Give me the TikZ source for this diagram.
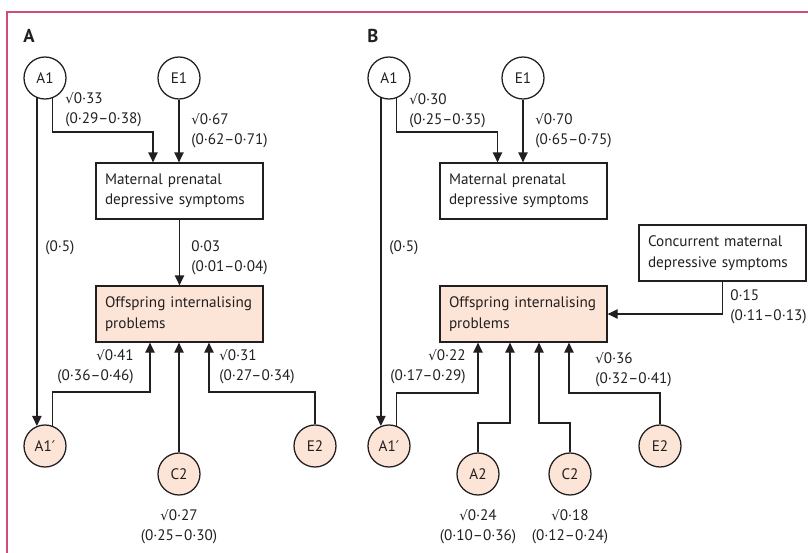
\documentclass[tikz,border=0pt]{standalone}
\usepackage{fontspec}
\setmainfont{PT Sans}
\newfontfamily\symfont{DejaVu Sans}
\usetikzlibrary{arrows.meta,calc}
\definecolor{framered}{RGB}{210,77,115}
\definecolor{peach}{RGB}{252,228,214}
\definecolor{ink}{RGB}{35,31,32}
\newcommand{\rt}{{\symfont\fontsize{10}{10}\selectfont\char"221A}}
\newcommand{\pr}{{\symfont\fontsize{11}{10}\selectfont\char"2032}}
\tikzset{
  latent/.style={draw=ink, circle, line width=0.95pt, minimum size=31.5pt, inner sep=0pt, fill=white},
  child/.style={fill=peach},
  measure/.style={draw=ink, line width=0.95pt, text width=111.75pt, inner xsep=6.75pt, minimum height=42pt, align=left},
  arr/.style={draw=ink, line width=0.95pt, -{Triangle[width=7pt,length=7.5pt]}},
  est/.style={inner sep=0pt, align=left, anchor=west},
  panel/.style={font=\bfseries\fontsize{14}{15}\selectfont}
}
\begin{document}
\begin{tikzpicture}[x=0.75pt,y=-0.75pt,font=\fontsize{11.4}{15.3}\selectfont,text=ink]
  \useasboundingbox (0,0) rectangle (808,553);
  \draw[framered, line width=0.9pt] (7,553) -- (7,12) -- (808,12);
  % panel A
  \node[panel](labA) at (29,36){A};
  \node[latent](a1A) at (45,78){A1};
  \node[latent](e1A) at (179,78){E1};
  \node[measure](matA) at (179.5,191){Maternal prenatal\\depressive symptoms};
  \node[measure,child](offA) at (179.5,314){Offspring internalising\\problems};
  \node[latent,child](a1pA) at (45,446){A1\pr};
  \node[latent,child](c2A) at (179,474){C2};
  \node[latent,child](e2A) at (315,446){E2};
  \draw[arr] (a1A.248) -- (a1pA.112);
  \draw[arr] (a1A.290) -- (a1A.290 |- 0,132) -| ($(matA.north)+(-26.5,0)$);
  \draw[arr] (e1A.south) -- (e1A.south |- matA.north);
  \draw[arr] (matA.south) -- (offA.north);
  \draw[arr] (a1pA.70) -- (a1pA.70 |- 0,392) -| ($(offA.south)+(-29.5,0)$);
  \draw[arr] (c2A.north) -- (c2A.north |- offA.south);
  \draw[arr] (e2A.north) -- (e2A.north |- 0,392) -| ($(offA.south)+(29.5,0)$);
  \node[est](wa1A) at (65,110){\rt0·33\\(0·29–0·38)};
  \node[est](we1A) at (191,131){\rt0·67\\(0·62–0·71)};
  \node[est](wdirA) at (45,248){(0·5)};
  \node[est](wmatA) at (191,258){0·03\\(0·01–0·04)};
  \node[est,anchor=east,align=right](wa1pA) at (134,367){\rt0·41\\(0·36–0·46)};
  \node[est](we2A) at (219,367){\rt0·31\\(0·27–0·34)};
  \node[est,anchor=center,align=center](wc2A) at (179,527){\rt0·27\\(0·25–0·30)};
  % panel B
  \node[panel](labB) at (373,36){B};
  \node[latent](a1B) at (389,78){A1};
  \node[latent](e1B) at (523,78){E1};
  \node[measure](matB) at (523.5,191){Maternal prenatal\\depressive symptoms};
  \node[measure,text width=111.75pt](concB) at (722.5,253){Concurrent maternal\\depressive symptoms};
  \node[measure,child](offB) at (523.5,314){Offspring internalising\\problems};
  \node[latent,child](a1pB) at (389,446){A1\pr};
  \node[latent,child](a2B) at (478,474){A2};
  \node[latent,child](c2B) at (570,474){C2};
  \node[latent,child](e2B) at (660,446){E2};
  \draw[arr] (a1B.248) -- (a1pB.112);
  \draw[arr] (a1B.290) -- (a1B.290 |- 0,132) -| ($(matB.north)+(-26,0)$);
  \draw[arr] (e1B.south) -- (e1B.south |- matB.north);
  \draw[arr] (concB.south) |- (offB.east);
  \draw[arr] (a1pB.70) -- (a1pB.70 |- 0,393) -| ($(offB.south)+(-45.5,0)$);
  \draw[arr] (a2B.north) -- (a2B.north |- 0,423) -| ($(offB.south)+(-13.5,0)$);
  \draw[arr] (c2B.north) -- (c2B.north |- 0,423) -| ($(offB.south)+(15.5,0)$);
  \draw[arr] (e2B.north) -- (e2B.north |- 0,393) -| ($(offB.south)+(45.5,0)$);
  \node[est](wa1B) at (409,111){\rt0·30\\(0·25–0·35)};
  \node[est](we1B) at (535,131){\rt0·70\\(0·65–0·75)};
  \node[est](wdirB) at (389,248){(0·5)};
  \node[est](wconcB) at (730,307){0·15\\(0·11–0·13)};
  \node[est,anchor=east,align=right](wa1pB) at (466,367){\rt0·22\\(0·17–0·29)};
  \node[est](we2B) at (595,370){\rt0·36\\(0·32–0·41)};
  \node[est,anchor=center,align=center](wa2B) at (478,527){\rt0·24\\(0·10–0·36)};
  \node[est,anchor=center,align=center](wc2B) at (570,527){\rt0·18\\(0·12–0·24)};
\end{tikzpicture}
\end{document}
